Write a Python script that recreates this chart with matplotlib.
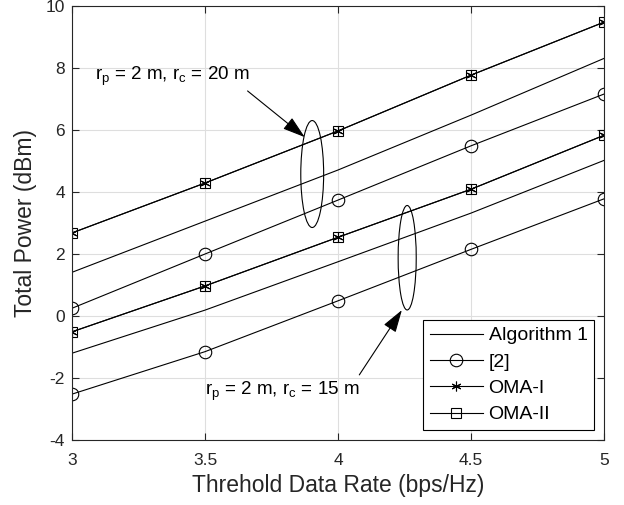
import matplotlib
matplotlib.use('Agg')
import matplotlib.pyplot as plt
from matplotlib.patches import Ellipse

plt.rcParams['font.family'] = ['Liberation Sans', 'DejaVu Sans']
plt.rcParams['mathtext.fontset'] = 'custom'
plt.rcParams['mathtext.rm'] = 'Liberation Sans'
plt.rcParams['mathtext.it'] = 'Liberation Sans'
plt.rcParams['axes.unicode_minus'] = False

# threshold data rate (bps/Hz)
rates = [3, 3.5, 4, 4.5, 5]

# r_c = 20 m
alg1_20 = [1.41, 3.06, 4.71, 6.48, 8.31]
ref2_20 = [0.25, 2.0, 3.74, 5.49, 7.16]
oma1_20 = [2.68, 4.29, 5.97, 7.77, 9.48]
oma2_20 = [2.68, 4.29, 5.97, 7.77, 9.48]

# r_c = 15 m
alg1_15 = [-1.2, 0.19, 1.75, 3.32, 5.02]
ref2_15 = [-2.52, -1.15, 0.49, 2.15, 3.78]
oma1_15 = [-0.51, 0.97, 2.54, 4.09, 5.83]
oma2_15 = [-0.51, 0.97, 2.54, 4.09, 5.83]

labels = ['Algorithm 1', '[2]', 'OMA-I', 'OMA-II']

fig = plt.figure(figsize=(6.24, 5.05), dpi=100)
ax = fig.add_axes([0.1154, 0.1287, 0.8526, 0.8594])

asterisk = (6, 2, 0)
lw = 0.8
handles = []
for alg1, ref2, oma1, oma2 in [(alg1_20, ref2_20, oma1_20, oma2_20),
                               (alg1_15, ref2_15, oma1_15, oma2_15)]:
    h1, = ax.plot(rates, alg1, color='k', lw=lw)
    h2, = ax.plot(rates, ref2, color='k', lw=lw, marker='o', ms=9,
                  mfc='none', mew=0.8)
    h3, = ax.plot(rates, oma1, color='k', lw=lw, marker=asterisk, ms=7,
                  mew=0.8)
    h4, = ax.plot(rates, oma2, color='k', lw=lw, marker='s', ms=6.5,
                  mfc='none', mew=0.8)
    if not handles:
        handles = [h1, h2, h3, h4]

ax.set_xlim(3, 5)
ax.set_ylim(-4, 10)
ax.set_xticks([3, 3.5, 4, 4.5, 5])
ax.set_xticklabels(['3', '3.5', '4', '4.5', '5'])
ax.set_yticks([-4, -2, 0, 2, 4, 6, 8, 10])
ax.grid(True, color='#dedede', lw=0.8)
ax.set_axisbelow(True)
ax.tick_params(direction='in', top=True, right=True, labelsize=12.5,
               length=5, width=0.8, colors='#262626', labelcolor='#262626')
ax.tick_params(axis='x', pad=9)
ax.tick_params(axis='y', pad=5)
for s in ax.spines.values():
    s.set_color('#262626')
    s.set_linewidth(0.8)

ax.set_xlabel('Threhold Data Rate (bps/Hz)', fontsize=16.5, labelpad=5,
              color='#262626')
ax.set_ylabel('Total Power (dBm)', fontsize=16.5, labelpad=6, color='#262626')

# group markers
ax.add_patch(Ellipse((3.903, 4.58), 0.086, 3.45, fill=False, ec='k', lw=0.8))
ax.add_patch(Ellipse((4.26, 1.88), 0.068, 3.37, fill=False, ec='k', lw=0.8))

arrow = dict(arrowstyle='-|>,head_length=0.7,head_width=0.22', color='k',
             lw=0.8, mutation_scale=20, shrinkA=0, shrinkB=0)
ax.annotate('', xy=(3.875, 5.77), xytext=(3.66, 7.26), arrowprops=arrow)
ax.annotate('', xy=(4.24, 0.19), xytext=(4.08, -1.9), arrowprops=arrow)

ax.text(3.086, 7.72, r'r$_\mathregular{p}$ = 2 m, r$_\mathregular{c}$ = 20 m',
        fontsize=13.5, va='center', ha='left')
ax.text(3.50, -2.42, r'r$_\mathregular{p}$ = 2 m, r$_\mathregular{c}$ = 15 m',
        fontsize=13.5, va='center', ha='left')

leg = ax.legend(handles, labels, loc='lower right', fontsize=14,
                fancybox=False, framealpha=1, edgecolor='k',
                handlelength=2.7, borderaxespad=0.5, labelspacing=0.45,
                handletextpad=0.3, borderpad=0.35)
leg.get_frame().set_linewidth(0.8)

fig.savefig('out.png', dpi=100)
